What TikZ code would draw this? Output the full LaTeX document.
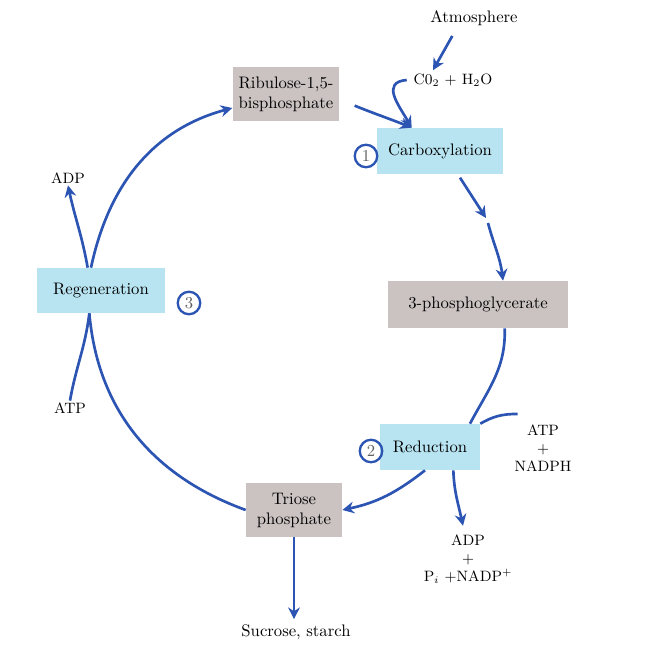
\documentclass[tikz,border=0pt]{standalone}
\usetikzlibrary{arrows.meta}
\definecolor{flowblue}{RGB}{44,84,178}
\definecolor{boxgray}{RGB}{203,194,194}
\definecolor{boxblue}{RGB}{184,228,242}
\definecolor{numgray}{RGB}{95,95,95}
\begin{document}
\begin{tikzpicture}[
  x=0.6pt, y=0.6pt,
  font=\normalsize,
  grey/.style={fill=boxgray, inner sep=2pt},
  stage/.style={fill=boxblue, inner sep=2pt},
  lbl/.style={inner sep=1pt, align=center},
  num/.style={circle, draw=flowblue, line width=1.4pt, text=numgray,
    inner sep=0pt, minimum size=13.5pt, font=\normalsize},
  link/.style={draw=flowblue, line width=1.6pt},
  flow/.style={link, -{Stealth[length=7pt,width=7pt]}}
]
\useasboundingbox (0,0) rectangle (672,-647);

\node[grey, minimum width=64pt, minimum height=32.4pt, align=left] (ribu) at (286,-94)
  {Ribulose-1,5-\\bisphosphate};
\node[stage, minimum width=75.6pt, minimum height=27.6pt] (carb) at (440,-151) {Carboxylation};
\node[grey, minimum width=108pt, minimum height=28.2pt] (pga) at (478,-304.5) {3-phosphoglycerate};
\node[stage, minimum width=60pt, minimum height=27.6pt] (red) at (430,-447) {Reduction};
\node[grey, minimum width=57.6pt, minimum height=32.4pt, align=center] (tri) at (294,-510)
  {Triose\\phosphate};
\node[stage, minimum width=76.8pt, minimum height=27pt] (regen) at (101,-290.5) {Regeneration};

\node[num] (n1) at (366,-156) {1};
\node[num] (n2) at (371,-451) {2};
\node[num] (n3) at (189,-303) {3};

\node[lbl] (atm) at (474,-18) {Atmosphere};
\node[lbl, font=\small] (co2) at (453,-80) {C0$_2$ + H$_2$O};
\node[lbl, font=\small] (adp1) at (68,-178) {ADP};
\node[lbl, font=\small] (atp1) at (70,-408) {ATP};
\node[lbl, font=\small] (atpn) at (543,-448) {ATP\\+\\NADPH};
\node[lbl, font=\small] (adpn) at (468,-559) {ADP\\+\\P$_i$ +NADP$^+$};
\node[lbl] (suc) at (296,-632) {Sucrose,\ starch};

\coordinate (m1) at (486,-218);
\coordinate (m2) at (488,-223);

% cycle
\draw[flow] ([xshift=-13pt,yshift=-5pt]atm.south) -- ([xshift=-12pt,yshift=1pt]co2.north);
\draw[flow] ([xshift=-3pt]co2.west) to[out=185,in=120,looseness=1.4] ([xshift=-17pt]carb.north);
\draw[flow] ([xshift=9pt,yshift=-7pt]ribu.east) to[out=-22,in=158] ([xshift=-17pt]carb.north);
\draw[flow] ([xshift=12pt,yshift=-2pt]carb.south) -- (m1);
\draw[flow] (m2) to[out=-75,in=97] ([xshift=15pt]pga.north);
\draw[link] ([xshift=16pt]pga.south) to[out=-88,in=62] ([xshift=24pt]red.north);
\draw[link] ([yshift=5pt,xshift=3pt]atpn.north west) to[out=180,in=30] (red.north east);
\draw[flow] ([xshift=14pt]red.south) to[out=-88,in=102] ([xshift=-3pt,yshift=4pt]adpn.north);
\draw[flow] ([xshift=-3pt]red.south) to[out=218,in=12] (tri.east);
\draw[flow, shorten >=2pt] (tri.south) -- (tri.south |- suc.north);
\draw[link] (tri.west) to[out=160,in=-85] ([xshift=-7pt]regen.south);
\draw[link] (atp1.north) to[out=80,in=-97] ([xshift=-7pt]regen.south);
\draw[flow] ([xshift=-8pt]regen.north) to[out=100,in=-78] (adp1.south);
\draw[flow] ([xshift=-6pt]regen.north) to[out=78,in=195] ([yshift=-8.4pt]ribu.west);
\end{tikzpicture}
\end{document}
